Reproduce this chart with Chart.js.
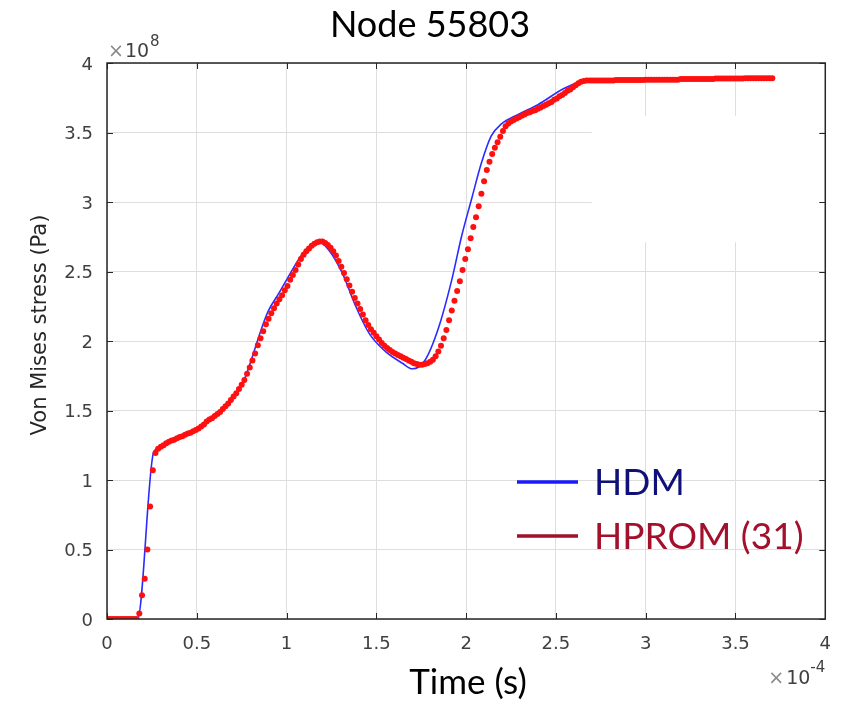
<!DOCTYPE html>
<html>
<head>
<meta charset="utf-8">
<script src="https://cdn.jsdelivr.net/npm/chart.js@4.4.1/dist/chart.umd.min.js"></script>
<style>
  html, body { margin: 0; padding: 0; background: #fff; }
  #wrap { width: 846px; height: 705px; }
</style>
</head>
<body>
<div id="wrap"><canvas id="chart" width="846" height="705"></canvas></div>
<script>
// time in units of 1e-4 s, stress in units of 1e8 Pa (the axis multipliers)
const chartTitle = 'Node 55803';
const xTicks = [0, 0.5, 1, 1.5, 2, 2.5, 3, 3.5, 4];
const yTicks = [0, 0.5, 1, 1.5, 2, 2.5, 3, 3.5, 4];

// HDM, solid blue line
const hdmTime = [0, 0.17, 0.26, 0.30, 0.37, 0.46, 0.50, 0.555, 0.63, 0.70,
  0.757, 0.795, 0.83, 0.866, 0.90, 0.96, 1.0, 1.09, 1.14, 1.18,
  1.235, 1.31, 1.385, 1.46, 1.55, 1.645, 1.70, 1.77, 1.845, 1.92,
  1.975, 2.03, 2.085, 2.14, 2.195, 2.29, 2.40, 2.55, 2.68, 3.07, 3.70];
const hdmStress = [0, 0, 1.20, 1.235, 1.29, 1.34, 1.36, 1.42, 1.49, 1.59,
  1.70, 1.83, 1.97, 2.11, 2.22, 2.35, 2.44, 2.63, 2.69, 2.715,
  2.655, 2.49, 2.25, 2.055, 1.925, 1.84, 1.80, 1.86, 2.09, 2.44,
  2.755, 3.02, 3.28, 3.475, 3.56, 3.63, 3.70, 3.82, 3.875, 3.885, 3.89];

// HPROM (31), red dots, one sample every 1.5e-6 s starting at t = 0
const hpromStep = 0.015;
const hpromStress = [
  0, 0, 0, 0, 0, 0, 0, 0, 0, 0,
  0, 0, 0.04, 0.17, 0.29, 0.50, 0.81, 1.07, 1.195, 1.225,
  1.24, 1.25, 1.265, 1.275, 1.285, 1.29, 1.30, 1.31, 1.315, 1.325,
  1.335, 1.34, 1.35, 1.36, 1.37, 1.385, 1.40, 1.42, 1.435, 1.445,
  1.46, 1.475, 1.49, 1.51, 1.53, 1.55, 1.575, 1.60, 1.625, 1.655,
  1.685, 1.72, 1.765, 1.81, 1.86, 1.91, 1.97, 2.02, 2.07, 2.12,
  2.16, 2.20, 2.235, 2.27, 2.30, 2.33, 2.365, 2.395, 2.44, 2.475,
  2.51, 2.55, 2.59, 2.62, 2.645, 2.665, 2.685, 2.70, 2.71, 2.715,
  2.715, 2.705, 2.69, 2.67, 2.645, 2.615, 2.575, 2.535, 2.49, 2.445,
  2.40, 2.355, 2.31, 2.27, 2.23, 2.19, 2.15, 2.115, 2.085, 2.06,
  2.035, 2.01, 1.985, 1.965, 1.95, 1.935, 1.92, 1.91, 1.90, 1.89,
  1.88, 1.87, 1.86, 1.85, 1.84, 1.835, 1.83, 1.83, 1.835, 1.84,
  1.85, 1.865, 1.89, 1.925, 1.965, 2.02, 2.08, 2.15, 2.22, 2.29,
  2.36, 2.43, 2.51, 2.59, 2.66, 2.74, 2.82, 2.89, 2.97, 3.06,
  3.15, 3.23, 3.29, 3.345, 3.39, 3.43, 3.47, 3.51, 3.545, 3.565,
  3.58, 3.59, 3.60, 3.61, 3.62, 3.63, 3.64, 3.645, 3.655, 3.66,
  3.67, 3.68, 3.69, 3.70, 3.71, 3.72, 3.735, 3.745, 3.76, 3.77,
  3.785, 3.80, 3.81, 3.825, 3.84, 3.855, 3.865, 3.87, 3.875, 3.875,
  3.875, 3.875, 3.875, 3.875, 3.875, 3.875, 3.875, 3.875, 3.875, 3.878,
  3.878, 3.878, 3.878, 3.878, 3.878, 3.878, 3.878, 3.878, 3.878, 3.878,
  3.88, 3.88, 3.88, 3.88, 3.88, 3.88, 3.88, 3.88, 3.88, 3.88,
  3.88, 3.88, 3.88, 3.885, 3.885, 3.885, 3.885, 3.885, 3.885, 3.885,
  3.885, 3.885, 3.885, 3.885, 3.885, 3.885, 3.888, 3.888, 3.888, 3.888,
  3.888, 3.888, 3.888, 3.888, 3.888, 3.888, 3.888, 3.89, 3.89, 3.89,
  3.89, 3.89, 3.89, 3.89, 3.89, 3.89, 3.89, 3.89
];

const hdmPoints = hdmTime.map((t, i) => ({ x: t, y: hdmStress[i] }));
const hpromPoints = hpromStress.map((v, i) => ({ x: i * hpromStep, y: v }));

const tickFont = { family: 'DejaVu Sans', size: 18 };
const tickColor = '#404040';
const frameColor = '#262626';

// MATLAB style box, inward ticks, multipliers, titles and the in-plot legend
const matlabLook = {
  id: 'matlabLook',
  beforeDatasetsDraw(chart) {
    // blank patch over the grid in the upper right of the reference
    const { ctx, scales: { x, y } } = chart;
    const l = x.getPixelForValue(2.7), r = x.getPixelForValue(3.97);
    const t = y.getPixelForValue(3.62), b = y.getPixelForValue(2.71);
    ctx.save();
    ctx.fillStyle = '#ffffff';
    ctx.fillRect(l, t, r - l, b - t);
    ctx.restore();
  },
  afterDraw(chart) {
    const { ctx, chartArea: a, scales: { x, y } } = chart;
    ctx.save();

    // ticks pointing inwards on all four sides
    ctx.strokeStyle = frameColor;
    ctx.lineWidth = 1;
    ctx.beginPath();
    xTicks.forEach(v => {
      const px = Math.round(x.getPixelForValue(v)) + 0.5;
      ctx.moveTo(px, a.bottom); ctx.lineTo(px, a.bottom - 6);
      ctx.moveTo(px, a.top); ctx.lineTo(px, a.top + 6);
    });
    yTicks.forEach(v => {
      const py = Math.round(y.getPixelForValue(v)) + 0.5;
      ctx.moveTo(a.left, py); ctx.lineTo(a.left + 6, py);
      ctx.moveTo(a.right, py); ctx.lineTo(a.right - 6, py);
    });
    ctx.stroke();

    // box
    ctx.lineWidth = 1.5;
    ctx.strokeRect(a.left, a.top, a.right - a.left, a.bottom - a.top);

    // axis multipliers
    ctx.textBaseline = 'alphabetic';
    ctx.textAlign = 'left';
    ctx.font = '19px "DejaVu Sans"';
    ctx.fillStyle = '#8a8a8a';
    ctx.fillText('\u00d7', a.left + 1, a.top - 6);
    ctx.fillStyle = tickColor;
    ctx.fillText('10', a.left + 18, a.top - 6);
    ctx.font = '15px "DejaVu Sans"';
    ctx.fillText('8', a.left + 43, a.top - 17);

    ctx.textAlign = 'right';
    ctx.font = '15px "DejaVu Sans"';
    const expW = ctx.measureText('-4').width;
    ctx.fillText('-4', a.right, a.bottom + 53);
    ctx.font = '19px "DejaVu Sans"';
    ctx.fillText('10', a.right - expW, a.bottom + 65);
    const tenW = ctx.measureText('10').width;
    ctx.fillStyle = '#8a8a8a';
    ctx.fillText('\u00d7', a.right - expW - tenW - 2, a.bottom + 65);

    // y axis title
    ctx.fillStyle = frameColor;
    ctx.save();
    ctx.translate(41, 325);
    ctx.rotate(-Math.PI / 2);
    ctx.textAlign = 'center';
    ctx.textBaseline = 'middle';
    ctx.font = '21px "DejaVu Sans"';
    ctx.fillText('Von Mises stress (Pa)', 0, 0);
    ctx.restore();

    // x axis title and chart title
    ctx.fillStyle = '#000000';
    ctx.textAlign = 'center';
    ctx.textBaseline = 'alphabetic';
    ctx.font = '35px Lato';
    ctx.fillText('Time (s)', 468, 694);
    ctx.font = '36px Lato';
    ctx.fillText(chartTitle, 430, 37);

    // legend inside the plot
    const entries = [
      { label: chart.data.datasets[0].label, line: '#1a1aff', text: '#10107a', y: 482 },
      { label: chart.data.datasets[1].label, line: '#a0102a', text: '#a3102c', y: 536 }
    ];
    ctx.font = '37px Lato';
    ctx.textAlign = 'left';
    ctx.textBaseline = 'middle';
    entries.forEach(e => {
      ctx.strokeStyle = e.line;
      ctx.lineWidth = 3.5;
      ctx.beginPath();
      ctx.moveTo(517, e.y);
      ctx.lineTo(578, e.y);
      ctx.stroke();
      ctx.fillStyle = e.text;
      ctx.fillText(e.label, 594, e.y + 1);
    });

    ctx.restore();
  }
};

new Chart(document.getElementById('chart'), {
  type: 'scatter',
  data: {
    datasets: [{
      label: 'HDM',
      data: hdmPoints,
      showLine: true,
      borderColor: '#2b2bff',
      borderWidth: 1.6,
      pointRadius: 0,
      cubicInterpolationMode: 'monotone',
      order: 1
    }, {
      label: 'HPROM (31)',
      data: hpromPoints,
      showLine: false,
      backgroundColor: '#ff1010',
      borderWidth: 0,
      pointRadius: 3,
      order: 0
    }]
  },
  options: {
    responsive: false,
    animation: false,
    layout: { padding: { top: 63, right: 19, bottom: 0, left: 0 } },
    plugins: {
      legend: { display: false },
      title: { display: false },
      tooltip: { enabled: false }
    },
    scales: {
      x: {
        type: 'linear',
        min: 0,
        max: 4,
        afterFit: s => { s.height = 86; },
        afterBuildTicks: s => { s.ticks = xTicks.map(v => ({ value: v })); },
        ticks: { font: tickFont, color: tickColor, padding: 15, maxRotation: 0, callback: v => String(v) },
        grid: { color: '#dedede', lineWidth: 1, drawTicks: false },
        border: { display: false }
      },
      y: {
        type: 'linear',
        min: 0,
        max: 4,
        afterFit: s => { s.width = 107; },
        afterBuildTicks: s => { s.ticks = yTicks.map(v => ({ value: v })); },
        ticks: { font: tickFont, color: tickColor, padding: 14, labelOffset: 2, callback: v => String(v) },
        grid: { color: '#dedede', lineWidth: 1, drawTicks: false },
        border: { display: false }
      }
    }
  },
  plugins: [matlabLook]
});
</script>
</body>
</html>
